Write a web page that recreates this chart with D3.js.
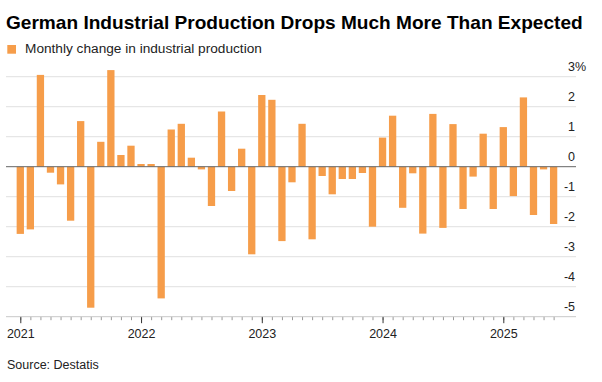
<!DOCTYPE html>
<html>
<head>
<meta charset="utf-8">
<script src="https://cdn.jsdelivr.net/npm/d3@7"></script>
<style>
    body { margin: 0; background: #fff; }
    svg { font-family: "Liberation Sans", Arial, Helvetica, sans-serif; }
</style>
</head>
<body>
<script>
// data: monthly change in industrial production, Jan 2021 - Jun 2025 (%)
var title = "German Industrial Production Drops Much More Than Expected";
var legendLabel = "Monthly change in industrial production";
var source = "Source: Destatis";

var startYear = 2021;
var yearLabels = ["2021", "2022", "2023", "2024", "2025"];
var yTicks = [3, 2, 1, 0, -1, -2, -3, -4, -5];

var values2021 = [-2.24, -2.09, 3.06, -0.2, -0.59, -1.8, 1.52, -4.7, 0.83, 3.22, 0.39, 0.7];
var values2022 = [0.09, 0.09, -4.39, 1.24, 1.43, 0.3, -0.09, -1.31, 1.84, -0.81, 0.6, -2.92];
var values2023 = [2.39, 2.23, -2.48, -0.52, 1.43, -2.42, -0.31, -0.92, -0.41, -0.41, -0.21, -2.0];
var values2024 = [0.97, 1.7, -1.37, -0.22, -2.23, 1.76, -2.04, 1.42, -1.41, -0.33, 1.1, -1.41];
var values2025 = [1.32, -0.98, 2.31, -1.61, -0.09, -1.91];

function init() {
    var W = 602, H = 382;
    var barColor = "#f69d4a";

    var values = values2021.concat(values2022, values2023, values2024, values2025);
    var dataset = values.map(function (v, i) { return { idx: i, value: v }; });

    var svg = d3.select("body").append("svg")
        .attr("width", W)
        .attr("height", H);

    //scales
    var xScale = d3.scaleLinear()
        .domain([0, 48])
        .range([20.3, 503.3]);

    var yScale = d3.scaleLinear()
        .domain([-5, 3])
        .range([316.7, 76.7]);

    var gridLeft = 6, gridRight = 576;
    var bw = 7.3;

    //title - fit to width
    var t = svg.append("text")
        .attr("x", 6)
        .attr("y", 28.5)
        .style("font-weight", "bold")
        .style("font-size", "18px")
        .style("fill", "#000")
        .text(title);
    var tw = t.node().getComputedTextLength();
    t.style("font-size", (18 * 577 / tw) + "px");

    //legend
    svg.append("rect")
        .attr("x", 7.3).attr("y", 45)
        .attr("width", 8.7).attr("height", 8.7)
        .attr("fill", barColor);
    var lt = svg.append("text")
        .attr("x", 25).attr("y", 53)
        .style("font-size", "13px")
        .style("fill", "#222")
        .text(legendLabel);
    var lw = lt.node().getComputedTextLength();
    lt.style("font-size", (13 * 237 / lw) + "px");

    //gridlines
    svg.append("g").selectAll("line")
        .data(yTicks.filter(function (d) { return d !== 0 && d !== -5; }))
        .enter().append("line")
        .attr("x1", gridLeft).attr("x2", gridRight)
        .attr("y1", function (d) { return yScale(d); })
        .attr("y2", function (d) { return yScale(d); })
        .attr("stroke", "#e0e0e0")
        .attr("stroke-width", 1);

    //y labels
    svg.append("g").selectAll("text")
        .data(yTicks)
        .enter().append("text")
        .attr("x", 575)
        .attr("y", function (d) { return yScale(d) - 6; })
        .attr("text-anchor", "end")
        .style("font-size", "12.5px")
        .style("fill", "#222")
        .text(function (d) { return d; });
    svg.append("text")
        .attr("x", 575)
        .attr("y", yScale(3) - 6)
        .style("font-size", "12.5px")
        .style("fill", "#222")
        .text("%");

    //bars
    svg.append("g").selectAll("rect")
        .data(dataset)
        .enter().append("rect")
        .attr("x", function (d) { return xScale(d.idx) - bw / 2; })
        .attr("width", bw)
        .attr("y", function (d) { return yScale(Math.max(0, d.value)); })
        .attr("height", function (d) { return Math.abs(yScale(d.value) - yScale(0)); })
        .attr("fill", barColor);

    //zero line
    svg.append("line")
        .attr("x1", gridLeft).attr("x2", gridRight)
        .attr("y1", yScale(0)).attr("y2", yScale(0))
        .attr("stroke", "#666")
        .attr("stroke-width", 1);

    //x axis: minor month ticks
    var monthIdx = d3.range(0, values.length);
    var minorAxis = d3.axisBottom(xScale)
        .tickValues(monthIdx)
        .tickSize(3.5)
        .tickFormat("");
    var gMinor = svg.append("g")
        .attr("transform", "translate(0," + yScale(-5) + ")")
        .call(minorAxis);
    gMinor.select(".domain").remove();
    gMinor.selectAll("line").attr("stroke", "#999");

    //major year ticks
    var yearIdx = yearLabels.map(function (y, i) { return i * 12; });
    var majorAxis = d3.axisBottom(xScale)
        .tickValues(yearIdx)
        .tickSize(6.5)
        .tickPadding(6)
        .tickFormat(function (d, i) { return yearLabels[i]; });
    var gMajor = svg.append("g")
        .attr("transform", "translate(0," + yScale(-5) + ")")
        .call(majorAxis);
    gMajor.select(".domain").remove();
    gMajor.selectAll("line").attr("stroke", "#333");
    gMajor.selectAll("text")
        .style("font-size", "12.5px")
        .style("font-family", "\"Liberation Sans\", Arial, sans-serif")
        .style("fill", "#222");

    //axis line
    svg.append("line")
        .attr("x1", gridLeft).attr("x2", gridRight)
        .attr("y1", yScale(-5)).attr("y2", yScale(-5))
        .attr("stroke", "#c8c8c8")
        .attr("stroke-width", 1);

    //source
    svg.append("text")
        .attr("x", 7).attr("y", 369)
        .style("font-size", "12.5px")
        .style("fill", "#222")
        .text(source);
}

window.onload = init;
</script>
</body>
</html>
